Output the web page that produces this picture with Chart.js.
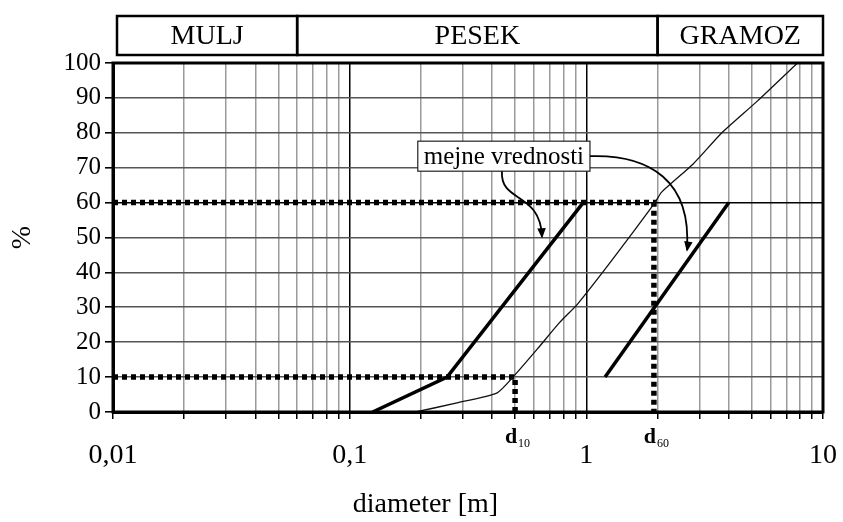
<!DOCTYPE html>
<html>
<head>
<meta charset="utf-8">
<script src="https://cdn.jsdelivr.net/npm/chart.js"></script>
<style>
  html, body { margin: 0; padding: 0; background: #fff; }
  #wrap { width: 843px; height: 522px; }
</style>
</head>
<body>
<div id="wrap"><canvas id="sieveChart"></canvas></div>
<script>
// size classes shown in the header band
const classNames = ["MULJ", "PESEK", "GRAMOZ"];
const classBounds = [0.01, 0.06, 2, 10];

// x axis ticks (log) and labels
const xTickValues = [];
[0.01, 0.1, 1].forEach(d => { for (let k = 1; k <= 9; k++) xTickValues.push(+(d * k).toPrecision(2)); });
xTickValues.push(10);
const xMajor = [0.01, 0.1, 1, 10];
const xMajorLabels = ["0,01", "0,1", "1", "10"];
const xTitle = "diameter [m]";

// limit curves (thick) and the sample grading curve (thin)
const fineLimitX = [0.125, 0.258, 0.97];
const fineLimitY = [0, 10, 60];
const sampleX = [0.19, 0.284, 0.42, 0.49, 0.62, 0.77, 0.92, 1.3, 1.95, 2.08, 2.82, 3.74, 5.26, 7.8];
const sampleY = [0, 2.6, 5.5, 10, 18, 25.6, 31, 44, 60, 63, 71, 80, 89, 100];
const coarseLimitX = [1.2, 4.0];
const coarseLimitY = [10, 60];

// characteristic diameters
const d10 = 0.5;
const d60 = 1.93;

const pts = (xs, ys) => xs.map((x, i) => ({ x: x, y: ys[i] }));
const serif = "'Liberation Serif', 'DejaVu Serif', serif";

// header band + frame + annotation
const extras = {
  id: "extras",
  afterDatasetsDraw(chart) {
    const { ctx, chartArea: a, scales: { x, y } } = chart;
    ctx.save();
    // frame
    ctx.strokeStyle = "#000";
    ctx.lineWidth = 3;
    ctx.strokeRect(a.left, a.top, a.right - a.left, a.bottom - a.top);

    // header boxes
    const hTop = a.top - 47, hBot = a.top - 8;
    ctx.lineWidth = 2.5;
    ctx.font = "28px " + serif;
    ctx.fillStyle = "#000";
    ctx.textAlign = "center";
    ctx.textBaseline = "middle";
    for (let i = 0; i < classNames.length; i++) {
      const l = x.getPixelForValue(classBounds[i]) + (i === 0 ? 4 : 0);
      const r = x.getPixelForValue(classBounds[i + 1]);
      ctx.strokeRect(l, hTop, r - l, hBot - hTop);
      ctx.fillText(classNames[i], (l + r) / 2, (hTop + hBot) / 2 + 1);
    }

    // x title, set a bit left of centre as in the original
    ctx.font = "28px " + serif;
    ctx.fillText(xTitle, a.left + (a.right - a.left) * 0.44, 505);

    // d10 / d60 labels under the axis
    [[d10, "10"], [d60, "60"]].forEach(([v, sub]) => {
      const px = x.getPixelForValue(v);
      ctx.font = "bold 22px " + serif;
      ctx.textAlign = "center";
      ctx.textBaseline = "alphabetic";
      ctx.fillText("d", px - 4, a.bottom + 31);
      ctx.font = "12px " + serif;
      ctx.fillText(sub, px + 9, a.bottom + 35);
    });

    // annotation box "mejne vrednosti"
    const bl = x.getPixelForValue(0.194), br = x.getPixelForValue(1.036);
    const bt = y.getPixelForValue(77.6), bb = y.getPixelForValue(69);
    ctx.fillStyle = "#fff";
    ctx.fillRect(bl, bt, br - bl, bb - bt);
    ctx.strokeStyle = "#222";
    ctx.lineWidth = 1.2;
    ctx.strokeRect(bl, bt, br - bl, bb - bt);
    ctx.fillStyle = "#000";
    ctx.font = "25px " + serif;
    ctx.textAlign = "center";
    ctx.textBaseline = "middle";
    ctx.fillText("mejne vrednosti", (bl + br) / 2, (bt + bb) / 2 + 1);

    // arrows
    ctx.strokeStyle = "#000";
    ctx.lineWidth = 1.8;
    const arrowHead = (tx, ty, ang) => {
      ctx.beginPath();
      ctx.moveTo(tx, ty);
      ctx.lineTo(tx - 11 * Math.cos(ang - 0.4), ty - 11 * Math.sin(ang - 0.4));
      ctx.lineTo(tx - 11 * Math.cos(ang + 0.4), ty - 11 * Math.sin(ang + 0.4));
      ctx.closePath();
      ctx.fill();
    };
    // left arrow
    let sx = x.getPixelForValue(0.44), sy = bb;
    let ex = x.getPixelForValue(0.65), ey = y.getPixelForValue(50.3);
    ctx.beginPath();
    ctx.moveTo(sx, sy);
    ctx.bezierCurveTo(sx - 2, sy + 32, ex - 2, sy + 20, ex, ey);
    ctx.stroke();
    arrowHead(ex, ey + 2, Math.PI / 2 - 0.05);
    // right arrow
    sx = br; sy = y.getPixelForValue(73.3);
    ex = x.getPixelForValue(2.66); ey = y.getPixelForValue(46.5);
    ctx.beginPath();
    ctx.moveTo(sx, sy);
    ctx.bezierCurveTo(sx + 60, sy - 2, ex + 5, sy + 25, ex, ey);
    ctx.stroke();
    arrowHead(ex, ey + 2, Math.PI / 2 + 0.15);
    ctx.restore();
  }
};

const ctx = document.getElementById("sieveChart").getContext("2d");
new Chart(ctx, {
  type: "line",
  data: {
    datasets: [
      { data: pts(fineLimitX, fineLimitY), borderColor: "#000", borderWidth: 3.5 },
      { data: pts(sampleX, sampleY), borderColor: "#111", borderWidth: 1.3, tension: 0.2 },
      { data: pts(coarseLimitX, coarseLimitY), borderColor: "#000", borderWidth: 3.5 },
      { data: pts([0.01, d60, d60], [60, 60, 0]), borderColor: "#000", borderWidth: 5.5, borderDash: [5, 4] },
      { data: pts([0.01, d10, d10], [10, 10, 0]), borderColor: "#000", borderWidth: 5.5, borderDash: [5, 4] }
    ]
  },
  options: {
    responsive: true,
    maintainAspectRatio: false,
    animation: false,
    layout: { padding: { top: 63, right: 20, left: 0, bottom: 0 } },
    elements: { point: { radius: 0 }, line: { borderCapStyle: "butt" } },
    scales: {
      x: {
        type: "logarithmic",
        min: 0.01,
        max: 10,
        afterBuildTicks: s => { s.ticks = xTickValues.map(v => ({ value: v })); },
        afterFit: s => { s.height = 110; s.paddingLeft = 0; s.paddingRight = 0; },
        grid: {
          color: c => (xMajor.includes(c.tick && c.tick.value) ? "#000" : "#9a9a9a"),
          lineWidth: 1.5,
          tickLength: 7,
          tickColor: "#000"
        },
        border: { color: "#000", width: 3 },
        ticks: {
          autoSkip: false,
          maxRotation: 0,
          padding: 20,
          color: "#000",
          font: { family: serif, size: 28 },
          callback: v => { const i = xMajor.indexOf(+v); return i >= 0 ? xMajorLabels[i] : ""; }
        },
        title: { display: false }
      },
      y: {
        min: 0,
        max: 100,
        afterFit: s => { s.width = 113; s.paddingTop = 0; s.paddingBottom = 0; },
        grid: {
          color: c => (c.tick && c.tick.value === 60 ? "#000" : "#555"),
          lineWidth: 1.6,
          tickLength: 8,
          tickColor: "#000"
        },
        border: { color: "#000", width: 3 },
        ticks: { stepSize: 10, padding: 4, color: "#000", font: { family: serif, size: 25 } },
        title: { display: true, text: "%", color: "#000", font: { family: serif, size: 28 }, padding: { top: 6, bottom: 0 } }
      }
    },
    plugins: { legend: { display: false }, tooltip: { enabled: false } }
  },
  plugins: [extras]
});
</script>
</body>
</html>
